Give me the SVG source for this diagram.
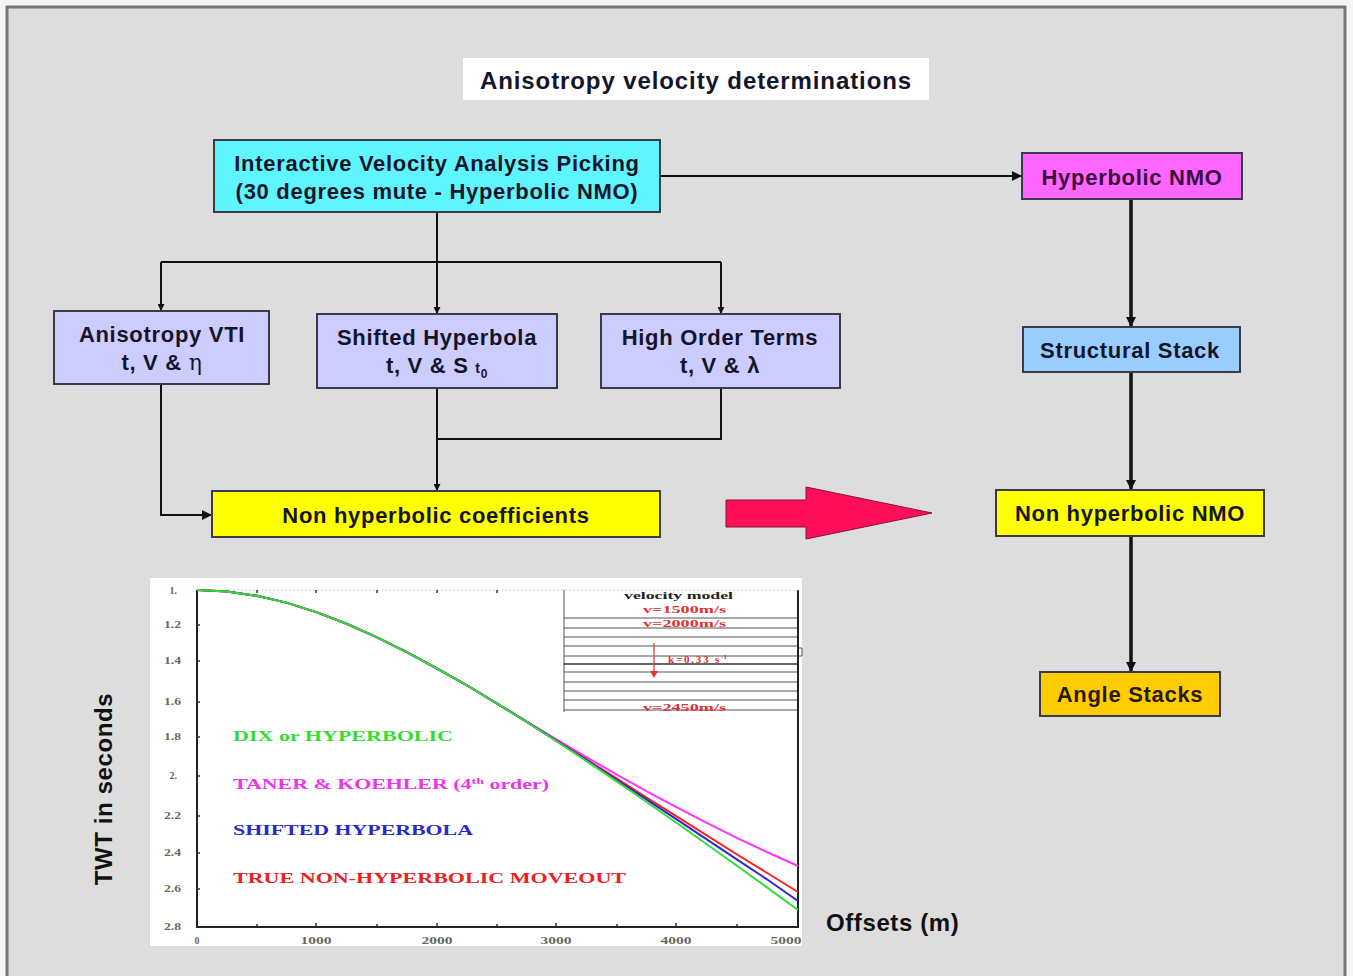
<svg xmlns="http://www.w3.org/2000/svg" width="1353" height="976" viewBox="0 0 1353 976">
<defs>
<style>
.nt{font-family:"Liberation Sans",Arial,sans-serif;font-weight:bold;font-size:22px;letter-spacing:0.7px;fill:#15152a;text-anchor:middle}
.box{stroke:#3a3a4a;stroke-width:2}
.con{fill:none;stroke:#111;stroke-width:2}
.thick{fill:none;stroke:#111;stroke-width:3.5}
.yl{font-family:"Liberation Serif",serif;font-size:10px;fill:#666;text-anchor:end;font-weight:bold}
.xl{font-family:"Liberation Serif",serif;font-size:10px;fill:#666;text-anchor:middle;font-weight:bold}
.leg{font-family:"Liberation Serif",serif;font-size:14px;font-weight:bold}
.vm{font-family:"Liberation Serif",serif;font-size:10px;font-weight:bold;fill:#e03030}
.ax{font-family:"Liberation Sans",Arial,sans-serif;font-weight:bold;font-size:24px;letter-spacing:0.6px;fill:#111}
</style>
<marker id="ah" viewBox="0 0 10 10" refX="10" refY="5" markerWidth="7" markerHeight="7" orient="auto" markerUnits="userSpaceOnUse">
<path d="M0,0 L10,5 L0,10 z" fill="#111"/>
</marker>
<marker id="ahb" viewBox="0 0 10 10" refX="10" refY="5" markerWidth="10" markerHeight="10" orient="auto" markerUnits="userSpaceOnUse">
<path d="M0,0 L10,5 L0,10 z" fill="#111"/>
</marker>
</defs>
<rect x="0" y="0" width="1353" height="976" fill="#f4f4f4"/>
<rect x="7" y="7" width="1338" height="985" fill="#dddddd" stroke="#777" stroke-width="3"/>

<g id="title">
<rect x="463" y="58" width="466" height="42" fill="#ffffff"/>
<text x="696" y="89" class="nt" style="font-size:24px;letter-spacing:0.9px">Anisotropy velocity determinations</text>
</g>

<g id="connectors">
<path class="con" d="M437,212 V262"/>
<path class="con" d="M161,262 H721"/>
<path class="con" d="M161,262 V311" marker-end="url(#ah)"/>
<path class="con" d="M437,262 V314" marker-end="url(#ah)"/>
<path class="con" d="M721,262 V314" marker-end="url(#ah)"/>
<path class="con" d="M660,176 H1022" marker-end="url(#ahb)"/>
<path class="con" d="M161,384 V515 H212" marker-end="url(#ahb)"/>
<path class="con" d="M437,388 V491" marker-end="url(#ah)"/>
<path class="con" d="M721,388 V439 H437"/>
<path class="thick" d="M1131,199 V327" marker-end="url(#ahb)"/>
<path class="thick" d="M1131,372 V490" marker-end="url(#ahb)"/>
<path class="thick" d="M1131,536 V672" marker-end="url(#ahb)"/>
</g>

<g id="node-interactive">
<rect class="box" x="214" y="140" width="446" height="72" fill="#5ff5ff"/>
<text class="nt" x="437" y="171">Interactive Velocity Analysis Picking</text>
<text class="nt" x="437" y="199">(30 degrees mute - Hyperbolic  NMO)</text>
</g>
<g id="node-hypnmo">
<rect class="box" x="1022" y="153" width="220" height="46" fill="#ff66ff"/>
<text class="nt" x="1132" y="185" style="fill:#3a0a40">Hyperbolic NMO</text>
</g>
<g id="node-structural">
<rect class="box" x="1023" y="327" width="217" height="45" fill="#99ccff"/>
<text class="nt" x="1130" y="358">Structural Stack</text>
</g>
<g id="node-nonhypnmo">
<rect class="box" x="996" y="490" width="268" height="46" fill="#ffff00"/>
<text class="nt" x="1130" y="521">Non hyperbolic NMO</text>
</g>
<g id="node-angle">
<rect class="box" x="1040" y="672" width="180" height="44" fill="#ffcc00"/>
<text class="nt" x="1130" y="702" style="fill:#2a1a00">Angle Stacks</text>
</g>
<g id="node-vti">
<rect class="box" x="54" y="311" width="215" height="73" fill="#ccccff"/>
<text class="nt" x="162" y="342">Anisotropy VTI</text>
<text class="nt" x="162" y="370">t, V &amp; <tspan style="font-weight:normal;font-family:'DejaVu Serif',serif">η</tspan></text>
</g>
<g id="node-shifted">
<rect class="box" x="317" y="314" width="240" height="74" fill="#ccccff"/>
<text class="nt" x="437" y="345">Shifted Hyperbola</text>
<text class="nt" x="437" y="373">t, V &amp; S <tspan style="font-size:14px">t</tspan><tspan style="font-size:12px" dy="5">0</tspan></text>
</g>
<g id="node-highorder">
<rect class="box" x="601" y="314" width="239" height="74" fill="#ccccff"/>
<text class="nt" x="720" y="345">High Order Terms</text>
<text class="nt" x="720" y="373">t, V &amp; λ</text>
</g>
<g id="node-coeff">
<rect class="box" x="212" y="491" width="448" height="46" fill="#ffff00"/>
<text class="nt" x="436" y="523">Non hyperbolic coefficients</text>
</g>

<g id="big-arrow">
<path d="M726,500 H806 V487 L932,513 L806,539 V527 H726 Z" fill="#ff0f5a" stroke="#8a1030" stroke-width="1"/>
</g>

<g id="chart">
<rect x="150" y="578" width="652" height="368" fill="#ffffff"/>
<path d="M197,590 V927 H798 V590" fill="none" stroke="#222" stroke-width="2"/>
<path d="M197,590 H798" fill="none" stroke="#ccc" stroke-width="1" stroke-dasharray="2,2"/>
<g stroke="#333" stroke-width="1.5" fill="none">
<path d="M257,927 v-3 M316,927 v-4 M377,927 v-3 M437,927 v-4 M497,927 v-3 M556,927 v-4 M617,927 v-3 M676,927 v-4 M737,927 v-3"/>
<path d="M197,625 h3 M197,661 h3 M197,702 h3 M197,737 h3 M197,776 h3 M197,816 h3 M197,853 h3 M197,889 h3"/>
<path d="M257,590 v3 M316,590 v3 M377,590 v3 M437,590 v3 M497,590 v3"/>
</g>
<path d="M799,648 h3 v8 h-3" fill="none" stroke="#555" stroke-width="1"/>
<text class="yl" x="177" y="594">1.</text>
<text class="yl" x="181" y="628" textLength="17" lengthAdjust="spacingAndGlyphs">1.2</text>
<text class="yl" x="181" y="664" textLength="17" lengthAdjust="spacingAndGlyphs">1.4</text>
<text class="yl" x="181" y="705" textLength="17" lengthAdjust="spacingAndGlyphs">1.6</text>
<text class="yl" x="181" y="740" textLength="17" lengthAdjust="spacingAndGlyphs">1.8</text>
<text class="yl" x="177" y="779">2.</text>
<text class="yl" x="181" y="819" textLength="17" lengthAdjust="spacingAndGlyphs">2.2</text>
<text class="yl" x="181" y="856" textLength="17" lengthAdjust="spacingAndGlyphs">2.4</text>
<text class="yl" x="181" y="892" textLength="17" lengthAdjust="spacingAndGlyphs">2.6</text>
<text class="yl" x="181" y="930" textLength="17" lengthAdjust="spacingAndGlyphs">2.8</text>
<text class="xl" x="197" y="944">0</text>
<text class="xl" x="316" y="944" textLength="31" lengthAdjust="spacingAndGlyphs">1000</text>
<text class="xl" x="437" y="944" textLength="31" lengthAdjust="spacingAndGlyphs">2000</text>
<text class="xl" x="556" y="944" textLength="31" lengthAdjust="spacingAndGlyphs">3000</text>
<text class="xl" x="676" y="944" textLength="31" lengthAdjust="spacingAndGlyphs">4000</text>
<text class="xl" x="786" y="944" textLength="31" lengthAdjust="spacingAndGlyphs">5000</text>

<g id="velocity-model">
<path d="M564,590 V712 M564,618 H797 M564,628 H797 M564,637 H797 M564,646 H797 M564,656 H797 M564,672 H797 M564,682 H797 M564,691 H797 M564,700 H797 M564,710 H797" fill="none" stroke="#555" stroke-width="1"/>
<path d="M564,664 H797" stroke="#333" stroke-width="1.5"/>
<text x="624" y="599" class="vm" style="fill:#222" textLength="109" lengthAdjust="spacingAndGlyphs">velocity model</text>
<text x="643" y="613" class="vm" textLength="83" lengthAdjust="spacingAndGlyphs">v=1500m/s</text>
<text x="643" y="627" class="vm" textLength="83" lengthAdjust="spacingAndGlyphs">v=2000m/s</text>
<text x="668" y="663" class="vm" style="font-size:11px;letter-spacing:1.8px">k=0.33 s<tspan font-size="7" dy="-4" style="letter-spacing:0">-1</tspan></text>
<text x="643" y="711" class="vm" textLength="83" lengthAdjust="spacingAndGlyphs">v=2450m/s</text>
<path d="M654,643 V672" stroke="#e03030" stroke-width="1.2"/>
<path d="M650,671 L654,678 L658,671 Z" fill="#e03030"/>
</g>

<polyline fill="none" stroke="#ff33ff" stroke-width="2" points="197,590 227,591.5 257,595.8 287.2,602.9 317,612.4 347.3,624 377,637.4 407.4,652.3 437,668.5 467.5,685.7 497.5,703.8 527.6,722.1 557.6,740.2 587.7,757.8 617.7,775.1 647.8,791.8 677.8,807.9 707.9,823.4 737.9,838.3 768,852.5 798,866"/>
<polyline fill="none" stroke="#ff2020" stroke-width="2" points="197,590 227,591.5 257,595.8 287.2,602.9 317,612.4 347.3,624 377,637.4 407.4,652.3 437,668.5 467.5,685.7 497.5,703.8 527.6,722.3 557.6,741.3 587.7,760.2 617.7,779.2 647.8,798.3 677.8,817.2 707.9,836.2 737.9,855 768,873.5 798,892"/>
<polyline fill="none" stroke="#2a2acc" stroke-width="2" points="197,590 227,591.5 257,595.8 287.2,602.9 317,612.4 347.3,624 377,637.4 407.4,652.3 437,668.5 467.5,685.7 497.5,703.8 527.6,722.4 557.6,741.6 587.7,760.9 617.7,780.5 647.8,800.3 677.8,820.1 707.9,840.1 737.9,860.1 768,880 798,901"/>
<polyline fill="none" stroke="#33dd33" stroke-width="2" points="197,590 227,591.5 257,595.8 287.2,602.9 317,612.4 347.3,624 377,637.4 407.4,652.3 437,668.5 467.5,685.7 497.5,703.8 527.6,722.5 557.6,742 587.7,761.8 617.7,782.1 647.8,802.8 677.8,823.7 707.9,845 737.9,866.5 768,888.1 798,910"/>

<text class="leg" x="233" y="741" fill="#33dd33" textLength="220" lengthAdjust="spacingAndGlyphs">DIX or HYPERBOLIC</text>
<text class="leg" x="233" y="789" fill="#ee33ee" textLength="316" lengthAdjust="spacingAndGlyphs">TANER &amp; KOEHLER (4<tspan font-size="9" dy="-5">th</tspan><tspan dy="5"> order)</tspan></text>
<text class="leg" x="233" y="835" fill="#2a2acc" textLength="240" lengthAdjust="spacingAndGlyphs">SHIFTED HYPERBOLA</text>
<text class="leg" x="233" y="883" fill="#ee2020" textLength="393" lengthAdjust="spacingAndGlyphs">TRUE NON-HYPERBOLIC MOVEOUT</text>
</g>

<text class="ax" transform="translate(112,789) rotate(-90)" text-anchor="middle">TWT in seconds</text>
<text class="ax" x="826" y="931">Offsets (m)</text>
</svg>
